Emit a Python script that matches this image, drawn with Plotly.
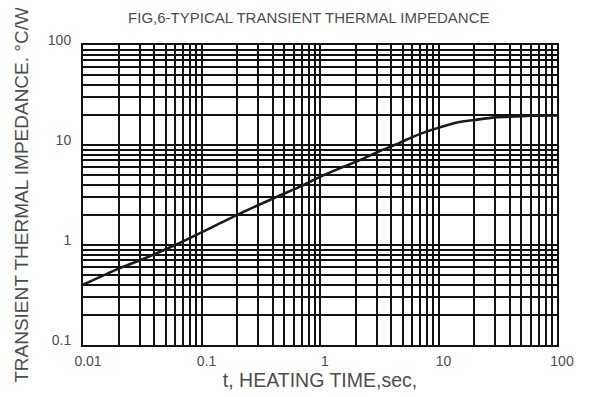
import plotly.graph_objects as go

# Data
heating_time = [0.01, 0.02, 0.03, 0.06, 0.2, 0.3, 0.45, 0.7, 1.0, 1.5, 2.2, 3.2,
                4.7, 6.0, 8.5, 15, 20, 30, 45, 60, 100]
impedance = [0.40, 0.58, 0.70, 1.0, 2.0, 2.5, 3.1, 3.9, 4.8, 5.9, 7.1, 8.7,
             10.5, 12.0, 14.0, 17.0, 17.8, 18.9, 19.3, 19.6, 19.7]

x_tick_vals = [0.01, 0.1, 1, 10, 100]
x_tick_text = ["0.01", "0.1", "1", "10", "100"]
y_tick_vals = [0.1, 1, 10, 100]
y_tick_text = ["0.1", "1", "10", "100"]

x_minor = [m * 10 ** e for e in (-2, -1, 0, 1) for m in range(2, 10)]
y_minor = [m * 10 ** e for e in (-1, 0, 1) for m in range(2, 10)]

grid_color = "#111111"
text_color = "#4d4d4d"
font_family = "Liberation Sans, Arial, sans-serif"

fig = go.Figure()
fig.add_trace(go.Scatter(
    x=heating_time, y=impedance, mode="lines",
    line=dict(color="#1a1a1a", width=2.6, shape="spline", smoothing=0.8),
    showlegend=False, hoverinfo="skip",
))

fig.update_layout(
    width=591, height=389,
    margin=dict(l=75, r=42, t=37, b=52),
    paper_bgcolor="white", plot_bgcolor="white",
    font=dict(family=font_family, color=text_color),
    title=dict(text="FIG,6-TYPICAL TRANSIENT THERMAL IMPEDANCE",
               x=0.509, xanchor="center", y=0.976, yanchor="middle",
               font=dict(size=15, color=text_color)),
)

fig.update_xaxes(
    type="log", range=[-2, 2],
    tickmode="array", tickvals=x_tick_vals, ticktext=x_tick_text,
    tickfont=dict(size=14, color=text_color),
    ticklabelshift=5, ticklabelstandoff=2,
    showgrid=True, gridcolor=grid_color, gridwidth=1.6,
    minor=dict(tickmode="array", tickvals=x_minor, showgrid=True,
               gridcolor=grid_color, gridwidth=1.6, ticks=""),
    showline=True, linecolor="#111111", linewidth=2, mirror=True,
    ticks="", zeroline=False,
    title=dict(text="t, HEATING TIME,sec,", font=dict(size=19.5, color=text_color),
               standoff=4),
)

fig.update_yaxes(
    type="log", range=[-1, 2],
    tickmode="array", tickvals=y_tick_vals, ticktext=y_tick_text,
    tickfont=dict(size=14, color=text_color),
    ticklabelshift=-5, ticklabelstandoff=7,
    showgrid=True, gridcolor=grid_color, gridwidth=1.6,
    minor=dict(tickmode="array", tickvals=y_minor, showgrid=True,
               gridcolor=grid_color, gridwidth=1.6, ticks=""),
    showline=True, linecolor="#111111", linewidth=2, mirror=True,
    ticks="", zeroline=False,
    title=dict(text="TRANSIENT THERMAL IMPEDANCE. °C/W",
               font=dict(size=19, color=text_color), standoff=14),
)

fig.write_html("out.html")
